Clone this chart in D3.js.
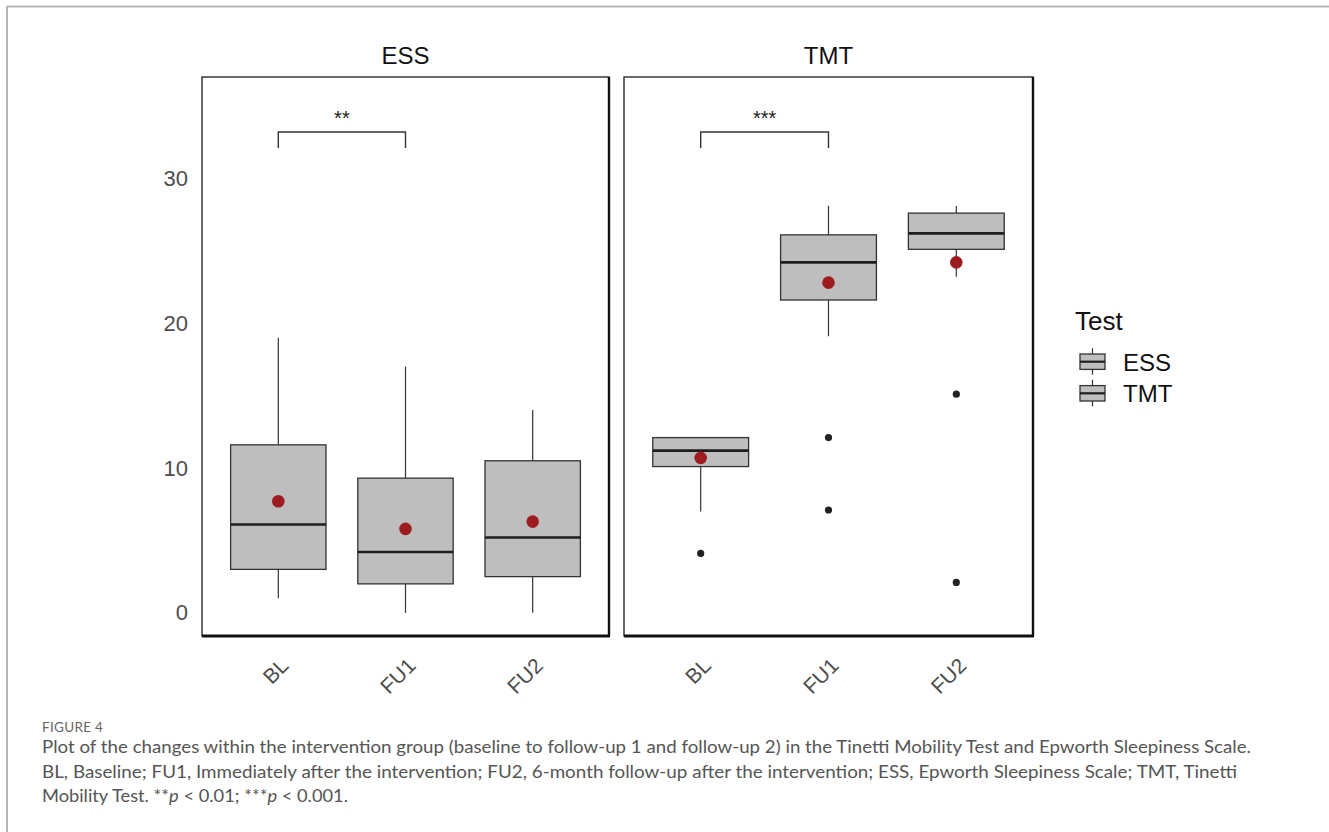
<!DOCTYPE html>
<html>
<head>
<meta charset="utf-8">
<script src="https://cdn.jsdelivr.net/npm/d3@7"></script>
<style>
  html, body { margin: 0; padding: 0; background: #fff; }
  svg { display: block; }
</style>
</head>
<body>
<svg id="chart" width="1329" height="832"></svg>
<script>
// Visit labels and facet names
const categories = ["BL", "FU1", "FU2"];
const tests = ["ESS", "TMT"];
const yTicks = [0, 10, 20, 30];

// Box summaries, one value per visit
const essLow = [1, 0, 0];
const essQ1 = [3, 2, 2.5];
const essMedian = [6.1, 4.2, 5.2];
const essQ3 = [11.6, 9.3, 10.5];
const essHigh = [19, 17, 14];
const essMean = [7.7, 5.8, 6.3];
const essOutliers = [[], [], []];

const tmtLow = [7, 19.1, 23.2];
const tmtQ1 = [10.1, 21.6, 25.1];
const tmtMedian = [11.2, 24.2, 26.2];
const tmtQ3 = [12.1, 26.1, 27.6];
const tmtHigh = [12.1, 28.1, 28.1];
const tmtMean = [10.7, 22.8, 24.2];
const tmtOutliers = [[4.1], [12.1, 7.1], [15.1, 2.1]];

// Significance brackets (BL vs FU1)
const sigTests = ["ESS", "TMT"];
const sigLabels = ["**", "***"];
const sigBarValue = 33.2;
const sigTipValue = 32.1;

const captionLines = [
  "Plot of the changes within the intervention group (baseline to follow-up 1 and follow-up 2) in the Tinetti Mobility Test and Epworth Sleepiness Scale.",
  "BL, Baseline; FU1, Immediately after the intervention; FU2, 6-month follow-up after the intervention; ESS, Epworth Sleepiness Scale; TMT, Tinetti"
];

function buildBoxes(low, q1, med, q3, high, mean, outliers) {
  return categories.map((c, i) => ({
    cat: c, low: low[i], q1: q1[i], median: med[i], q3: q3[i],
    high: high[i], mean: mean[i], outliers: outliers[i]
  }));
}

const boxData = {
  ESS: buildBoxes(essLow, essQ1, essMedian, essQ3, essHigh, essMean, essOutliers),
  TMT: buildBoxes(tmtLow, tmtQ1, tmtMedian, tmtQ3, tmtHigh, tmtMean, tmtOutliers)
};

const svg = d3.select("#chart");
const FONT = "'Liberation Sans', Arial, sans-serif";
const BOX_FILL = "#bebebe";
const LINE = "#333333";
const MEAN_COL = "#9e1c20";

const panelTop = 77, panelBottom = 636;
const panels = [
  { test: "ESS", x0: 202, x1: 609 },
  { test: "TMT", x0: 624, x1: 1033 }
];

const y = d3.scaleLinear().domain([-1.6, 37]).range([panelBottom, panelTop]);

// page frame
svg.append("line").attr("x1", 7).attr("x2", 1329).attr("y1", 6.5).attr("y2", 6.5)
  .attr("stroke", "#b4b4b4").attr("stroke-width", 2);
svg.append("line").attr("x1", 7).attr("x2", 7).attr("y1", 6).attr("y2", 832)
  .attr("stroke", "#b4b4b4").attr("stroke-width", 2);

panels.forEach((p, pi) => {
  const x = d3.scalePoint().domain(categories).range([p.x0, p.x1]).padding(0.6);
  const bw = x.step() * 0.75;
  const g = svg.append("g").attr("class", "panel");

  // strip title
  g.append("text")
    .attr("x", (p.x0 + p.x1) / 2).attr("y", 64)
    .attr("text-anchor", "middle")
    .attr("font-family", FONT).attr("font-size", 24).attr("fill", "#111")
    .text(p.test);

  const boxes = g.selectAll(".box").data(boxData[p.test]).enter()
    .append("g").attr("class", "box");

  // whiskers
  boxes.append("line")
    .attr("x1", d => x(d.cat)).attr("x2", d => x(d.cat))
    .attr("y1", d => y(d.q3)).attr("y2", d => y(d.high))
    .attr("stroke", LINE).attr("stroke-width", 1.2);
  boxes.append("line")
    .attr("x1", d => x(d.cat)).attr("x2", d => x(d.cat))
    .attr("y1", d => y(d.q1)).attr("y2", d => y(d.low))
    .attr("stroke", LINE).attr("stroke-width", 1.2);

  // boxes
  boxes.append("rect")
    .attr("x", d => x(d.cat) - bw / 2).attr("width", bw)
    .attr("y", d => y(d.q3)).attr("height", d => y(d.q1) - y(d.q3))
    .attr("fill", BOX_FILL).attr("stroke", LINE).attr("stroke-width", 1.3);

  // medians
  boxes.append("line")
    .attr("x1", d => x(d.cat) - bw / 2).attr("x2", d => x(d.cat) + bw / 2)
    .attr("y1", d => y(d.median)).attr("y2", d => y(d.median))
    .attr("stroke", "#1e1e1e").attr("stroke-width", 2.6);

  // outliers
  boxes.selectAll(".outlier").data(d => d.outliers.map(v => ({ cat: d.cat, v }))).enter()
    .append("circle").attr("class", "outlier")
    .attr("cx", d => x(d.cat)).attr("cy", d => y(d.v)).attr("r", 3.6)
    .attr("fill", "#222");

  // means
  boxes.append("circle")
    .attr("cx", d => x(d.cat)).attr("cy", d => y(d.mean)).attr("r", 6.3)
    .attr("fill", MEAN_COL);

  // significance bracket
  const si = sigTests.indexOf(p.test);
  if (si >= 0) {
    const xa = x("BL"), xb = x("FU1");
    g.append("path")
      .attr("d", `M${xa},${y(sigTipValue)}V${y(sigBarValue)}H${xb}V${y(sigTipValue)}`)
      .attr("fill", "none").attr("stroke", LINE).attr("stroke-width", 1.4);
    g.append("text")
      .attr("x", (xa + xb) / 2).attr("y", y(sigBarValue) - 7)
      .attr("text-anchor", "middle")
      .attr("font-family", FONT).attr("font-size", 20).attr("fill", "#222")
      .text(sigLabels[si]);
  }

  // panel border
  g.append("rect")
    .attr("x", p.x0).attr("y", panelTop)
    .attr("width", p.x1 - p.x0).attr("height", panelBottom - panelTop)
    .attr("fill", "none").attr("stroke", "#1a1a1a").attr("stroke-width", 1.3);
  g.append("line").attr("x1", p.x0).attr("x2", p.x1 + 1)
    .attr("y1", panelBottom).attr("y2", panelBottom)
    .attr("stroke", "#111").attr("stroke-width", 3);
  g.append("line").attr("x1", p.x1).attr("x2", p.x1)
    .attr("y1", panelTop).attr("y2", panelBottom)
    .attr("stroke", "#111").attr("stroke-width", 2.4);

  // x axis
  const xAxis = g.append("g")
    .attr("transform", `translate(0,${panelBottom})`)
    .call(d3.axisBottom(x).tickSize(0));
  xAxis.select(".domain").remove();
  xAxis.selectAll("text")
    .attr("x", 0).attr("y", 0).attr("dy", 0)
    .attr("transform", "translate(11,31) rotate(-45)")
    .attr("text-anchor", "end")
    .attr("font-family", FONT).attr("font-size", 21).attr("fill", "#4d4d4d");

  // y axis, left panel only
  if (pi === 0) {
    const yAxis = g.append("g")
      .attr("transform", `translate(${p.x0},0)`)
      .call(d3.axisLeft(y).tickValues(yTicks).tickSize(0).tickPadding(14));
    yAxis.select(".domain").remove();
    yAxis.selectAll("text")
      .attr("font-family", FONT).attr("font-size", 22).attr("fill", "#4d4d4d");
  }
});

// legend
const legend = svg.append("g").attr("transform", "translate(1075,0)");
legend.append("text").attr("x", 0).attr("y", 330)
  .attr("font-family", FONT).attr("font-size", 26).attr("fill", "#111")
  .text("Test");
const keys = legend.selectAll(".key").data(tests).enter().append("g")
  .attr("class", "key")
  .attr("transform", (d, i) => `translate(0,${361.7 + i * 31.6})`);
keys.append("line").attr("x1", 17.5).attr("x2", 17.5).attr("y1", -13.5).attr("y2", 13)
  .attr("stroke", LINE).attr("stroke-width", 1.2);
keys.append("rect").attr("x", 5).attr("y", -7.7).attr("width", 25).attr("height", 15.4)
  .attr("fill", BOX_FILL).attr("stroke", LINE).attr("stroke-width", 1.3);
keys.append("line").attr("x1", 5).attr("x2", 30).attr("y1", 0).attr("y2", 0)
  .attr("stroke", "#1e1e1e").attr("stroke-width", 2.2);
keys.append("text").attr("x", 48).attr("y", 9)
  .attr("font-family", FONT).attr("font-size", 24).attr("fill", "#111")
  .text(d => d);

// caption
const CAP_FONT = "Lato, 'Open Sans', sans-serif";
svg.append("text").attr("x", 42).attr("y", 732)
  .attr("font-family", CAP_FONT).attr("font-size", 13.5).attr("fill", "#666")
  .attr("letter-spacing", 0.3)
  .text("FIGURE 4");
const capWidths = [1209, 1195];
captionLines.forEach((line, i) => {
  svg.append("text").attr("x", 42).attr("y", 753 + i * 24.5)
    .attr("font-family", CAP_FONT).attr("font-size", 17.5).attr("fill", "#555")
    .attr("textLength", capWidths[i]).attr("lengthAdjust", "spacingAndGlyphs")
    .text(line);
});
const last = svg.append("text").attr("x", 42).attr("y", 802)
  .attr("font-family", CAP_FONT).attr("font-size", 17.5).attr("fill", "#555")
  .attr("textLength", 306).attr("lengthAdjust", "spacingAndGlyphs");
last.append("tspan").text("Mobility Test. **");
last.append("tspan").attr("font-style", "italic").text("p");
last.append("tspan").text(" < 0.01; ***");
last.append("tspan").attr("font-style", "italic").text("p");
last.append("tspan").text(" < 0.001.");
</script>
</body>
</html>
